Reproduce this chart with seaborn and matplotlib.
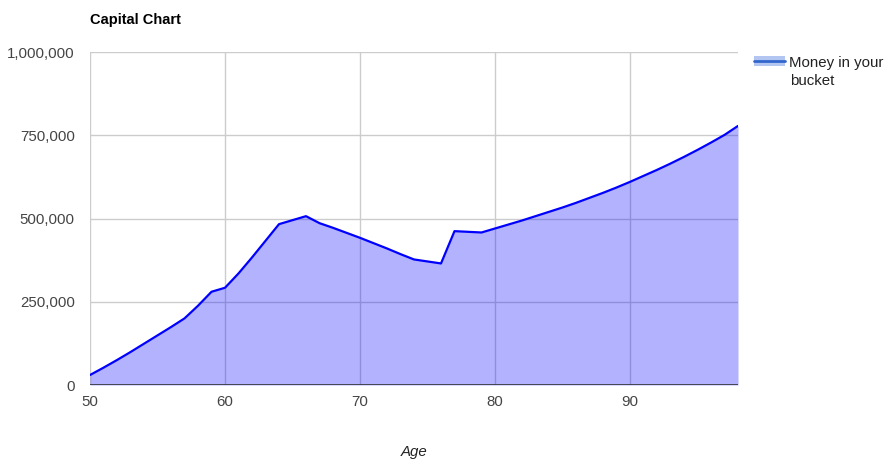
import pandas as pd
import matplotlib
matplotlib.use("Agg")
import matplotlib.pyplot as plt
import seaborn as sns
from matplotlib.lines import Line2D
from matplotlib.patches import Patch

ages = list(range(50, 99))
money = [
    30000, 52000, 75000, 99000, 124000, 149000, 174000, 200000, 238000, 280000,
    292000, 335000, 383000, 433000, 483000, 495000, 507000, 486000, 472000, 457000,
    442000, 426000, 410000, 393000, 377000, 371000, 365000, 462000, 460000, 458000,
    470000, 482000, 494000, 507000, 520000, 533000, 547000, 562000, 577000, 593000,
    610000, 628000, 646000, 665000, 685000, 706000, 728000, 751000, 778000,
]
y_ticks = [0, 250000, 500000, 750000, 1000000]
x_ticks = [50, 60, 70, 80, 90]

df = pd.DataFrame({"Age": ages, "Money": money})

sns.set_style("white")
plt.rcParams["font.family"] = ["Liberation Sans", "DejaVu Sans"]

fig = plt.figure(figsize=(8.93, 4.73), dpi=100)
ax = fig.add_axes([90 / 893, 1 - 385 / 473, 648 / 893, 333 / 473])

# grid under the translucent fill
for v in y_ticks[1:]:
    ax.axhline(v, color="#cccccc", lw=1, zorder=0)
for v in x_ticks:
    ax.axvline(v, color="#cccccc", lw=1, zorder=0)

ax.fill_between(df["Age"], df["Money"], 0, color="#0000ff", alpha=0.3, lw=0, zorder=1)
sns.lineplot(data=df, x="Age", y="Money", color="#0000ff", lw=1.6, ax=ax, zorder=2)
ax.axhline(0, color="#333333", lw=1.2, zorder=3)

ax.set_xlim(50, 98)
ax.set_ylim(0, 1000000)
ax.set_xticks(x_ticks)
ax.set_yticks(y_ticks)
ax.set_yticklabels([f"{v:,}" for v in y_ticks])
ax.tick_params(axis="both", length=0, labelsize=10.8, colors="#444444")
ax.tick_params(axis="y", pad=11)
ax.tick_params(axis="x", pad=7)
for s in ax.spines.values():
    s.set_visible(False)

ax.set_ylabel("")
ax.set_xlabel("Age", fontsize=10.8, style="italic", color="#222222", labelpad=26)
fig.text(90 / 893, 1 - 20 / 473, "Capital Chart", fontsize=10.5, fontweight="bold",
         color="#000000", va="center", ha="left")

# legend: handle sits beside the first line, second line wraps below
handle = (Patch(facecolor="#b3c6f2", edgecolor="none"),
          Line2D([], [], color="#3366cc", lw=2))
fig.legend([handle], ["Money in your"], loc="upper left",
           bbox_to_anchor=(740 / 893, 1 - 42 / 473), frameon=False,
           fontsize=10.8, handlelength=2.1, handletextpad=0.25,
           labelcolor="#222222")
fig.text(790 / 893, 1 - 81 / 473, "bucket", fontsize=10.8, color="#222222",
         va="center", ha="left")

fig.savefig("out.png", dpi=100)
